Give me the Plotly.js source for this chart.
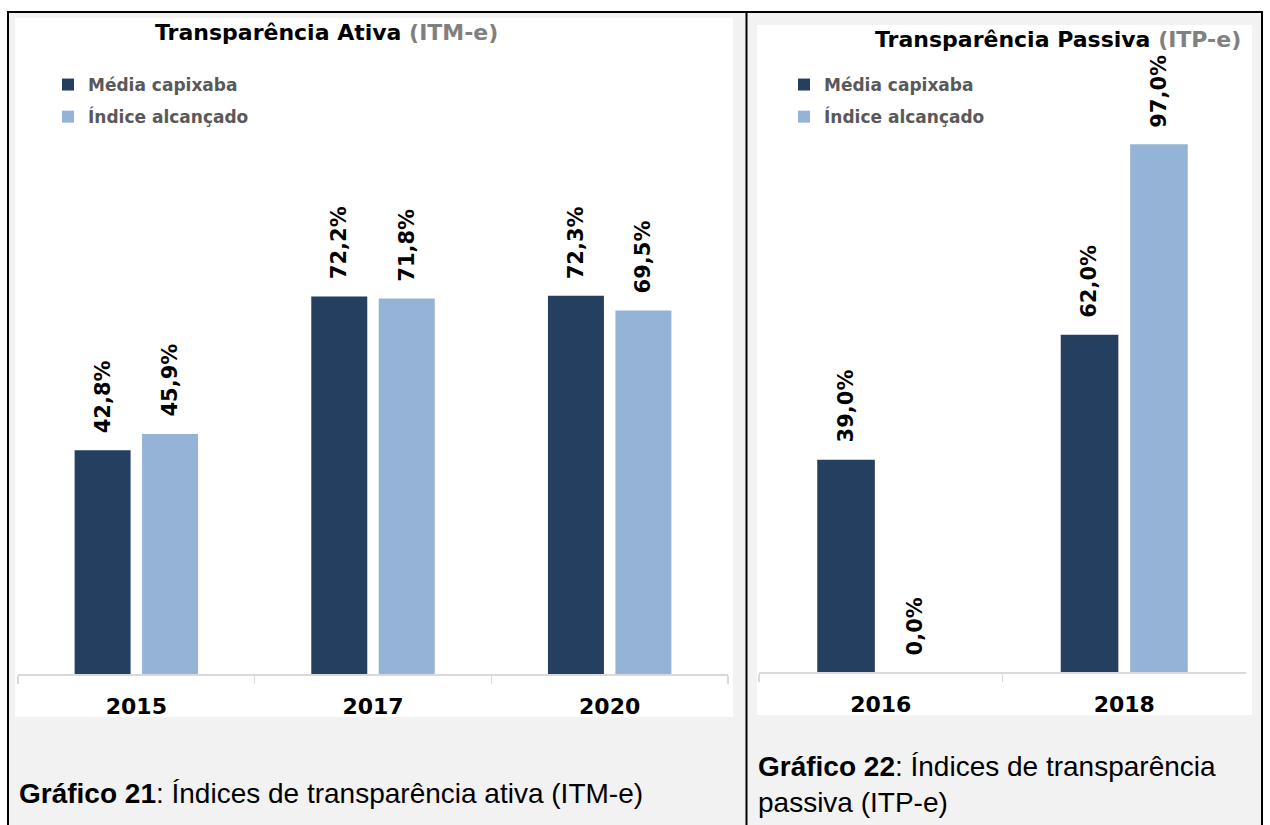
<!DOCTYPE html>
<html>
<head>
<meta charset="utf-8">
<script src="https://cdn.plot.ly/plotly-3.0.1.min.js"></script>
<style>
  html, body { margin: 0; padding: 0; background: #ffffff; }
  #chart { width: 1270px; height: 825px; }
</style>
</head>
<body>
<div id="chart"></div>
<script>
// ---- Data ----
const seriesNames = ['Média capixaba', 'Índice alcançado'];
const categoriesAtiva = ['2015', '2017', '2020'];
const mediaAtiva = [42.8, 72.2, 72.3];
const indiceAtiva = [45.9, 71.8, 69.5];
const categoriesPassiva = ['2016', '2018'];
const mediaPassiva = [39.0, 62.0];
const indicePassiva = [0.0, 97.0];
const titleAtiva = 'Transparência Ativa';
const titleAtivaTag = '(ITM-e)';
const titlePassiva = 'Transparência Passiva';
const titlePassivaTag = '(ITP-e)';
const captionAtiva = ['Gráfico 21', ': Índices de transparência ativa (ITM-e)'];
const captionPassiva = ['Gráfico 22', ': Índices de transparência', 'passiva (ITP-e)'];

// ---- Style ----
const W = 1270, H = 825;
const DARK = '#253F61';
const LIGHT = '#95B3D7';
const BARGAP = 0.43;
const BARGROUPGAP = 0.17;
const px = v => v / W;
const py = v => 1 - v / H;
const chartFont = 'DejaVu Sans, Verdana, sans-serif';
const capFont = 'Liberation Sans, Arial, sans-serif';
const fmt = v => v.toFixed(1).replace('.', ',') + '%';

const traces = [
  { type: 'bar', x: categoriesAtiva, y: mediaAtiva, name: seriesNames[0], marker: { color: DARK },
    xaxis: 'x', yaxis: 'y', legend: 'legend', legendgroup: 'a1', hoverinfo: 'skip' },
  { type: 'bar', x: categoriesAtiva, y: indiceAtiva, name: seriesNames[1], marker: { color: LIGHT },
    xaxis: 'x', yaxis: 'y', legend: 'legend', legendgroup: 'a2', hoverinfo: 'skip' },
  { type: 'bar', x: categoriesPassiva, y: mediaPassiva, name: seriesNames[0], marker: { color: DARK },
    xaxis: 'x2', yaxis: 'y2', legend: 'legend2', legendgroup: 'p1', hoverinfo: 'skip' },
  { type: 'bar', x: categoriesPassiva, y: indicePassiva, name: seriesNames[1], marker: { color: LIGHT },
    xaxis: 'x2', yaxis: 'y2', legend: 'legend2', legendgroup: 'p2', hoverinfo: 'skip' }
];

// value labels
const offset = (1 - BARGAP) / 4;
const annotations = [];
function addLabels(series, axis) {
  series.forEach((vals, s) => {
    vals.forEach((v, i) => {
      annotations.push({
        xref: axis[0], yref: axis[1], x: i + (s === 0 ? -offset : offset), y: v,
        text: fmt(v), textangle: -90, showarrow: false, xanchor: 'center', yanchor: 'bottom', yshift: 15,
        font: { family: chartFont, size: 21, color: '#000000', weight: 'bold' }
      });
    });
  });
}
addLabels([mediaAtiva, indiceAtiva], ['x', 'y']);
addLabels([mediaPassiva, indicePassiva], ['x2', 'y2']);

// titles
annotations.push({
  xref: 'paper', yref: 'paper', x: px(327), y: py(32), xanchor: 'center', yanchor: 'middle', showarrow: false,
  text: titleAtiva + ' <span style="color:#808080">' + titleAtivaTag + '</span>',
  font: { family: chartFont, size: 22, color: '#000000', weight: 'bold' }
});
annotations.push({
  xref: 'paper', yref: 'paper', x: px(1058), y: py(40), xanchor: 'center', yanchor: 'middle', showarrow: false,
  text: titlePassiva + ' <span style="color:#808080">' + titlePassivaTag + '</span>',
  font: { family: chartFont, size: 22, color: '#000000', weight: 'bold' }
});
// captions
annotations.push({
  xref: 'paper', yref: 'paper', x: px(17), y: py(793), xanchor: 'left', yanchor: 'middle', align: 'left', showarrow: false,
  text: '<b>' + captionAtiva[0] + '</b>' + captionAtiva[1],
  font: { family: capFont, size: 28, color: '#000000' }
});
annotations.push({
  xref: 'paper', yref: 'paper', x: px(756), y: py(784), xanchor: 'left', yanchor: 'middle', align: 'left', showarrow: false,
  text: '<b>' + captionPassiva[0] + '</b>' + captionPassiva[1] + '<br>' + captionPassiva[2],
  font: { family: capFont, size: 28, color: '#000000' }
});

const shapes = [
  { type: 'rect', xref: 'paper', yref: 'paper', x0: px(8), x1: px(1262), y0: 0, y1: py(12),
    fillcolor: '#f2f2f2', line: { width: 0 }, layer: 'below' },
  { type: 'rect', xref: 'paper', yref: 'paper', x0: px(15), x1: px(733), y0: py(717), y1: py(18),
    fillcolor: '#ffffff', line: { width: 0 }, layer: 'below' },
  { type: 'rect', xref: 'paper', yref: 'paper', x0: px(757), x1: px(1252), y0: py(715), y1: py(25),
    fillcolor: '#ffffff', line: { width: 0 }, layer: 'below' },
  { type: 'line', xref: 'paper', yref: 'paper', x0: px(7), x1: px(1263), y0: py(12), y1: py(12),
    line: { color: '#000000', width: 2 } },
  { type: 'line', xref: 'paper', yref: 'paper', x0: px(8), x1: px(8), y0: py(12), y1: 0,
    line: { color: '#000000', width: 2 } },
  { type: 'line', xref: 'paper', yref: 'paper', x0: px(746.5), x1: px(746.5), y0: py(12), y1: 0,
    line: { color: '#000000', width: 2 } },
  { type: 'line', xref: 'paper', yref: 'paper', x0: px(1262), x1: px(1262), y0: py(12), y1: 0,
    line: { color: '#000000', width: 2 } }
];

const xCommon = {
  type: 'category', tickson: 'boundaries', ticks: 'outside', ticklen: 8, tickwidth: 1.5, tickcolor: '#d9d9d9',
  showline: true, linecolor: '#d9d9d9', linewidth: 2, showgrid: false, zeroline: false, fixedrange: true,
  ticklabelstandoff: 12,
  tickfont: { family: chartFont, size: 22, color: '#000000', weight: 'bold' }
};
const yCommon = { range: [0, 100], visible: false, fixedrange: true, showgrid: false, zeroline: false };

const legendCommon = {
  xanchor: 'left', yanchor: 'top', bgcolor: 'rgba(0,0,0,0)', borderwidth: 0,
  traceorder: 'grouped', tracegroupgap: 7, orientation: 'v',
  font: { family: chartFont, size: 17, color: '#595959', weight: 'bold' }
};

const layout = {
  width: W, height: H, margin: { l: 0, r: 0, t: 0, b: 0 },
  paper_bgcolor: '#ffffff', plot_bgcolor: '#ffffff',
  barmode: 'group', bargap: BARGAP, bargroupgap: BARGROUPGAP,
  showlegend: true,
  xaxis: Object.assign({}, xCommon, { domain: [px(18), px(728)], anchor: 'y' }),
  yaxis: Object.assign({}, yCommon, { domain: [py(674), py(151)], anchor: 'x' }),
  xaxis2: Object.assign({}, xCommon, { domain: [px(759), px(1246)], anchor: 'y2' }),
  yaxis2: Object.assign({}, yCommon, { domain: [py(672), py(128)], anchor: 'x2' }),
  legend: Object.assign({}, legendCommon, { x: px(48), y: py(67) }),
  legend2: Object.assign({}, legendCommon, { x: px(784), y: py(67) }),
  annotations: annotations,
  shapes: shapes
};

Plotly.newPlot('chart', traces, layout, { displayModeBar: false, staticPlot: true });
</script>
</body>
</html>
